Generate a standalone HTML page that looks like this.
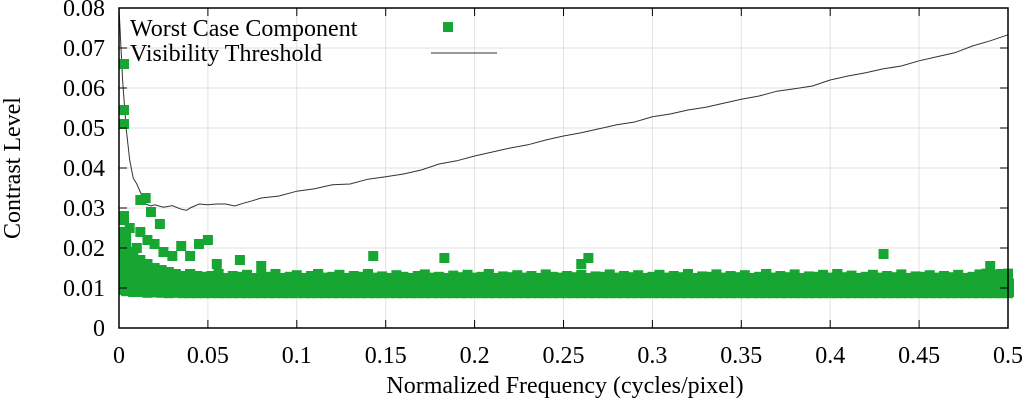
<!DOCTYPE html>
<html><head><meta charset="utf-8"><style>
body{margin:0;background:#fff}
svg text{font-family:"Liberation Serif",serif;font-size:24px;fill:#000}
</style></head><body>
<svg id="c" width="1024" height="401"></svg>
<script>
const xTicks=[0,0.05,0.1,0.15,0.2,0.25,0.3,0.35,0.4,0.45,0.5];
const xTickLabels=["0","0.05","0.1","0.15","0.2","0.25","0.3","0.35","0.4","0.45","0.5"];
const yTicks=[0,0.01,0.02,0.03,0.04,0.05,0.06,0.07,0.08];
const yTickLabels=["0","0.01","0.02","0.03","0.04","0.05","0.06","0.07","0.08"];
const thrX=[0,0.002,0.004,0.006,0.008,0.01,0.012,0.015,0.018,0.02,0.025,0.03,0.035,0.038,0.04,0.045,0.05,0.055,0.06,0.065,0.07,0.075,0.08,0.09,0.1,0.11,0.12,0.13,0.14,0.15,0.16,0.17,0.18,0.19,0.2,0.21,0.22,0.23,0.24,0.25,0.26,0.27,0.28,0.29,0.3,0.31,0.32,0.33,0.34,0.35,0.36,0.37,0.38,0.39,0.4,0.41,0.42,0.43,0.44,0.45,0.46,0.47,0.48,0.49,0.5];
const thrY=[0.08,0.062,0.05,0.042,0.0375,0.036,0.034,0.031,0.0305,0.0308,0.0302,0.0306,0.0297,0.0294,0.03,0.031,0.0308,0.031,0.031,0.0305,0.0312,0.0318,0.0325,0.033,0.0342,0.0348,0.0358,0.036,0.0372,0.0378,0.0385,0.0395,0.041,0.0418,0.043,0.044,0.045,0.0458,0.047,0.048,0.0488,0.0498,0.0508,0.0515,0.0528,0.0535,0.0545,0.0552,0.0562,0.0572,0.058,0.0592,0.0598,0.0605,0.062,0.063,0.0638,0.0648,0.0655,0.0668,0.0678,0.0688,0.0705,0.0718,0.0733];
const bandStep=0.004;
const bandTop=[0.024,0.021,0.019,0.017,0.016,0.015,0.0145,0.014,0.0135,0.013,0.0135,0.013,0.0128,0.013,0.0135,0.0125,0.013,0.0128,0.0133,0.0125,0.013,0.0128,0.0135,0.0125,0.0128,0.0132,0.0125,0.013,0.0135,0.0126,0.0128,0.0133,0.0125,0.013,0.0128,0.0135,0.0126,0.0129,0.0125,0.0132,0.0128,0.0125,0.013,0.0134,0.0126,0.0128,0.0125,0.0131,0.0127,0.0133,0.0126,0.0128,0.0135,0.0125,0.0129,0.0127,0.0132,0.0126,0.013,0.0125,0.0134,0.0128,0.0126,0.013,0.0127,0.0133,0.0125,0.0129,0.0128,0.0134,0.0126,0.013,0.0127,0.0132,0.0125,0.0128,0.0133,0.0126,0.013,0.0127,0.0135,0.0125,0.0129,0.0128,0.0134,0.0126,0.013,0.0127,0.0132,0.0125,0.0128,0.0135,0.0126,0.013,0.0127,0.0134,0.0125,0.0129,0.0128,0.0133,0.0126,0.0135,0.0127,0.0131,0.0125,0.0128,0.0133,0.0126,0.013,0.0127,0.0134,0.0125,0.0129,0.0128,0.0132,0.0126,0.013,0.0127,0.0133,0.0125,0.0128,0.0134,0.0136,0.0133,0.0135,0.0136];
const bandLow=[0.0095,0.0092,0.009,0.009,0.0088,0.0089,0.0088,0.0087,0.0088,0.0087];
const outX=[0,0,0,0.001,0.002,0,0.004,0.012,0.015,0.018,0.023,0.035,0.012,0.02,0.03,0.04,0.045,0.05,0.055,0.068,0.08,0.143,0.183,0.26,0.264,0.43,0.49,0.025,0.01,0.006,0.016];
const outY=[0.066,0.0545,0.051,0.028,0.027,0.023,0.0225,0.032,0.0325,0.029,0.026,0.0205,0.024,0.021,0.018,0.018,0.021,0.022,0.016,0.017,0.0155,0.018,0.0175,0.016,0.0175,0.0185,0.0155,0.019,0.02,0.025,0.022];

const L=119,R=1008,T=8,B=328;
const xs=v=>L+(v/0.5)*(R-L), ys=v=>B-(v/0.08)*(B-T);
const svg=document.getElementById('c'),NS='http://www.w3.org/2000/svg';
function mk(t,a,p){const e=document.createElementNS(NS,t);for(const k in a)e.setAttribute(k,a[k]);(p||svg).appendChild(e);return e;}
const grid=mk('g',{});


xTicks.forEach(v=>mk('line',{x1:xs(v),x2:xs(v),y1:T,y2:B,stroke:'#e2e2e2','stroke-width':1},grid));
yTicks.forEach(v=>mk('line',{x1:L,x2:R,y1:ys(v),y2:ys(v),stroke:'#e2e2e2','stroke-width':1},grid));
let d='';thrX.forEach((x,i)=>{d+=(i?'L':'M')+xs(x).toFixed(1)+','+ys(thrY[i]).toFixed(1);});
const th=mk('path',{d:d,fill:'none',stroke:'#333','stroke-width':1});


const pts=mk('g',{fill:'#16a631'});


function sq(x,y){const px=Math.min(Math.max(xs(x),L+5),R+1);mk('rect',{x:px-5,y:ys(y)-5,width:10,height:10},pts);}
bandTop.forEach((v,i)=>{const x=i*bandStep;const lo=i<bandLow.length?bandLow[i]:0.0087;
  for(let y=lo;y<=v;y+=0.0012)sq(x,y);sq(x,v);sq(x+bandStep/2,(v+lo)/2);sq(x+bandStep/2,lo+0.0003);});
outX.forEach((x,i)=>sq(x,outY[i]));
const fr=mk('rect',{x:L,y:T,width:R-L,height:B-T,fill:'none',stroke:'#000','stroke-width':1.5});


xTicks.forEach((v,i)=>{mk('line',{x1:xs(v),x2:xs(v),y1:B,y2:B-8,stroke:'#000'});mk('line',{x1:xs(v),x2:xs(v),y1:T,y2:T+8,stroke:'#000'});
  const t=mk('text',{x:xs(v),y:363,'text-anchor':'middle'});t.textContent=xTickLabels[i];
  
  });
yTicks.forEach((v,i)=>{mk('line',{x1:L,x2:L+8,y1:ys(v),y2:ys(v),stroke:'#000'});mk('line',{x1:R,x2:R-8,y1:ys(v),y2:ys(v),stroke:'#000'});
  const t=mk('text',{x:105,y:ys(v)+8,'text-anchor':'end'});t.textContent=yTickLabels[i];
  
  });
</script>
<svg width="1024" height="401" style="position:absolute;left:0;top:0">
<text x="565" y="393" text-anchor="middle">Normalized Frequency (cycles/pixel)</text>
<text transform="translate(20,168) rotate(-90)" text-anchor="middle">Contrast Level</text>
<g>
<text x="130" y="36">Worst Case Component</text>
<rect x="443" y="22" width="10" height="10" fill="#16a631"/>
<text x="130" y="61">Visibility Threshold</text>
<line x1="431" x2="497" y1="53" y2="53" stroke="#333"/>
</g>
</svg>
</body></html>
